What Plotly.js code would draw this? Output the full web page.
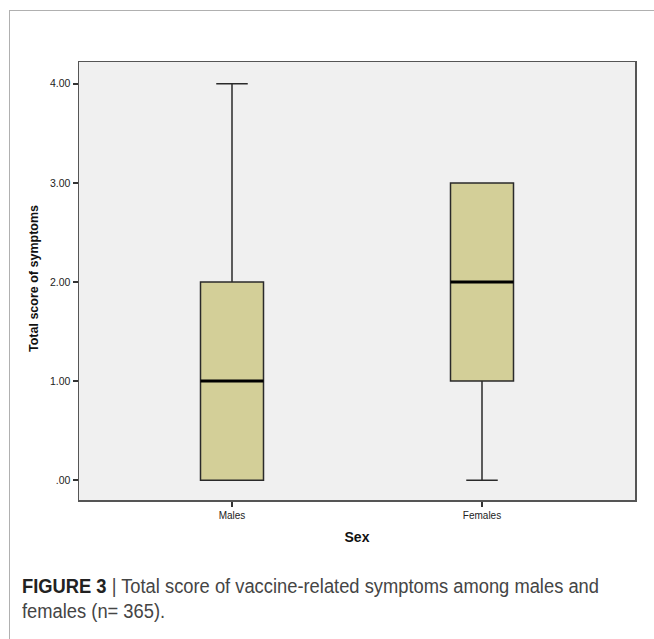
<!DOCTYPE html>
<html>
<head>
<meta charset="utf-8">
<script src="https://cdn.plot.ly/plotly-3.0.1.min.js"></script>
<style>
html,body{margin:0;padding:0;background:#fff;}
#frame{position:absolute;left:9px;top:10px;width:645px;height:629px;border-top:1px solid #b0b0b0;border-left:1px solid #b0b0b0;box-sizing:border-box;}
#chart{position:absolute;left:0;top:0;width:654px;height:639px;}
#caption{position:absolute;left:22px;top:574px;width:640px;font-family:"Liberation Sans",Arial,sans-serif;font-size:19.5px;line-height:25px;color:#454545;transform:scaleX(0.94);transform-origin:0 0;white-space:nowrap;}
#caption b{color:#222;}
</style>
</head>
<body>
<div id="frame"></div>
<div id="chart"></div>
<div id="caption"><b>FIGURE 3</b> | Total score of vaccine-related symptoms among males and<br>females (n= 365).</div>
<script>
// Data
const categories = ["Males", "Females"];
const q1 = [0, 1];
const medians = [1, 2];
const q3 = [2, 3];
const lowerFence = [0, 0];
const upperFence = [4, 3];
const yTickVals = [0, 1, 2, 3, 4];
const yTickText = [".00", "1.00", "2.00", "3.00", "4.00"];

const positions = categories.map((c, i) => i);
const boxWidth = 0.252;

const trace = {
  type: "box",
  x: positions,
  q1: q1,
  median: medians,
  q3: q3,
  lowerfence: lowerFence,
  upperfence: upperFence,
  width: boxWidth,
  whiskerwidth: 0.5,
  fillcolor: "#d3cf98",
  line: {color: "#2a2a2a", width: 1.5},
  boxpoints: false,
  hoverinfo: "skip",
  showlegend: false
};

const medianShapes = positions.map((p, i) => ({
  type: "line", xref: "x", yref: "y",
  x0: p - boxWidth / 2, x1: p + boxWidth / 2,
  y0: medians[i], y1: medians[i],
  line: {color: "#000", width: 3}
}));

const layout = {
  width: 654, height: 639,
  margin: {l: 79, r: 19, t: 62, b: 139},
  paper_bgcolor: "rgba(0,0,0,0)",
  plot_bgcolor: "#f0f0f0",
  font: {family: "Arial, Liberation Sans, sans-serif", color: "#222"},
  xaxis: {
    range: [-0.612, 1.612],
    tickvals: positions, ticktext: categories,
    ticks: "outside", ticklen: 5, tickwidth: 1.5, tickcolor: "#333",
    tickfont: {size: 10, color: "#222"},
    showgrid: false, zeroline: false,
    showline: true, linecolor: "#555", linewidth: 1.5, mirror: true,
    title: {text: "<b>Sex</b>", font: {size: 14, color: "#111"}, standoff: 12}
  },
  yaxis: {
    range: [-0.2, 4.22],
    tickvals: yTickVals, ticktext: yTickText,
    ticks: "outside", ticklen: 5, tickwidth: 1.5, tickcolor: "#333",
    tickfont: {size: 10.5, color: "#222"},
    showgrid: false, zeroline: false,
    showline: true, linecolor: "#555", linewidth: 1.5, mirror: true
  },
  shapes: medianShapes,
  annotations: [
    {
      xref: "paper", yref: "paper",
      x: (34 - 79) / 556, y: (500 - 279) / 438,
      xanchor: "center", yanchor: "middle", textangle: -90, showarrow: false,
      font: {size: 12.5, color: "#111"},
      text: "<b>Total score of symptoms</b>"
    }
  ]
};

Plotly.newPlot("chart", [trace], layout, {displayModeBar: false, staticPlot: true});
</script>
</body>
</html>
